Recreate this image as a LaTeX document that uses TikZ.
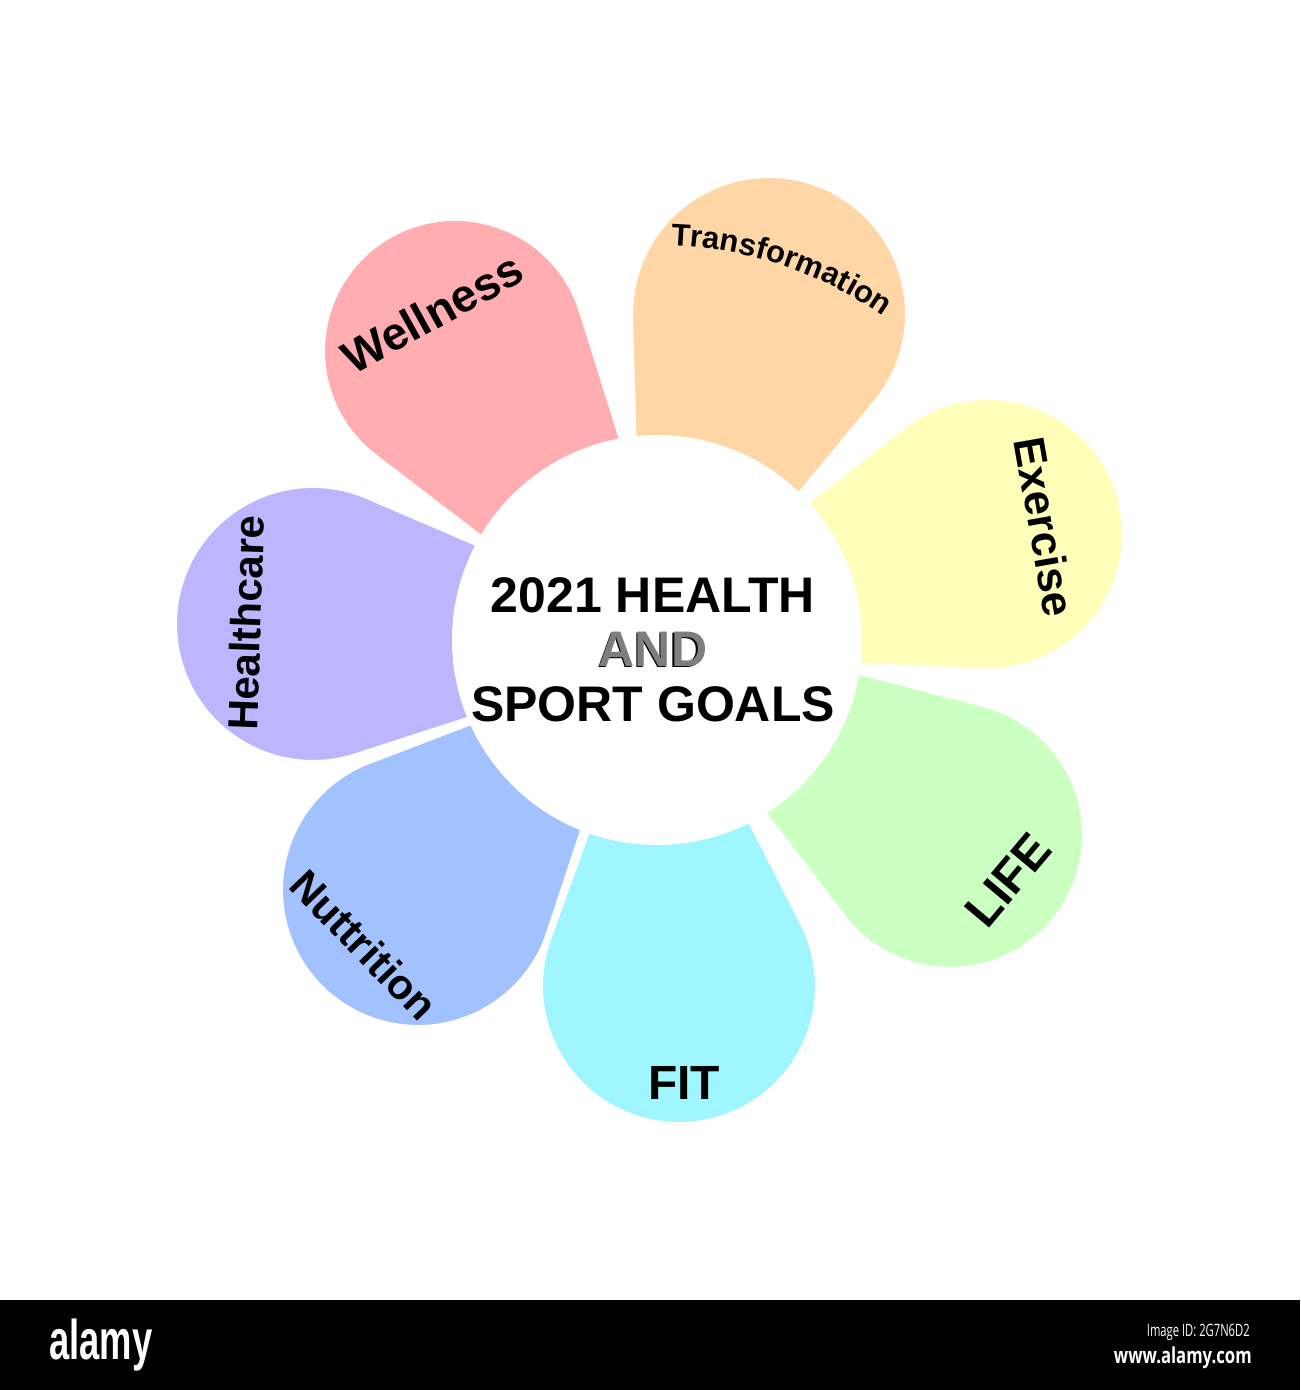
\documentclass[tikz,border=0pt]{standalone}
\usepackage{fontspec}
\setmainfont{Liberation Sans}
\newfontfamily\wmfont{Open Sans}
\usetikzlibrary{decorations.text}
\definecolor{pinkP}{HTML}{FFADB0}
\definecolor{peachP}{HTML}{FFD6A6}
\definecolor{yellowP}{HTML}{FFFFB9}
\definecolor{greenP}{HTML}{CCFFC2}
\definecolor{cyanP}{HTML}{9FF6FF}
\definecolor{blueP}{HTML}{A1C2FF}
\definecolor{purpleP}{HTML}{BEB5FF}
\definecolor{andgray}{HTML}{7E7E7E}
\tikzset{
  petalshape/.style={draw=white,line width=3pt},
  lbl/.style={font=\bfseries\fontsize{#1}{#1}\selectfont,inner sep=0pt},
  title/.style={font=\bfseries\fontsize{25}{25}\selectfont,inner sep=0pt,anchor=base},
  wm/.style={text=white,inner sep=0pt}
}
\newcommand\drawpetal[5]{%
  \pgfmathsetmacro\pang{atan2(750-#2,657-#1)}%
  \pgfmathsetmacro\pbet{acos(#3/#5)}%
  \pgfmathsetmacro\pend{360-\pbet}%
  \begin{scope}[shift={(#1,#2)},rotate=\pang]
    \path[petalshape,fill=#4] (#5,0) -- (\pbet:#3) arc[start angle=\pbet,end angle=\pend,radius=#3] -- cycle;
  \end{scope}}
\begin{document}
\begin{tikzpicture}[x=0.5pt,y=0.5pt]
\useasboundingbox (0,0) rectangle (1300,1390);
\fill[white] (0,0) rectangle (1300,1390);
% petals
\drawpetal{455}{1039}{133}{pinkP}{440}
\drawpetal{769}{1076}{139}{peachP}{395}
\drawpetal{988}{856}{137}{yellowP}{400}
\drawpetal{950}{555}{135}{greenP}{415}
\drawpetal{679}{404}{139}{cyanP}{350}
\drawpetal{418}{500}{138}{blueP}{322}
\drawpetal{313}{766}{139}{purpleP}{395}
% hub
\node (hub) [circle,fill=white,draw=white,line width=3pt,minimum size=202pt,inner sep=0pt] at (657,750) {};
% centre text
\node (t1) [title] at (653,777) {2021 HEALTH};
\node (t2s) [title,text=black] at (651.5,722) {AND};
\node (t2) [title,text=andgray] at (653,723) {AND};
\node (t3) [title] at (653,668) {SPORT GOALS};
% petal labels
\node (wellness) [lbl=23,rotate=29] at (432,1077) {Wellness};
\path[decorate,decoration={text along path,text align=center,
  text={|\bfseries\fontsize{15.5}{16}\selectfont|Transformation}}]
  (657,750) ++(101.5:395) arc[start angle=101.5,end angle=41.5,radius=395];
\node (exercise) [lbl=22,rotate=-80] at (1045,863) {Exercise};
\node (life) [lbl=24,rotate=50] at (1008,510) {LIFE};
\node (fit) [lbl=24] at (684,307) {FIT};
\node (nutr) [lbl=21,rotate=-46] at (364,445) {Nuttrition};
\node (health) [lbl=21,rotate=88] at (246,767) {Healthcare};
% bottom bar
\fill[black] (0,0) rectangle (1300,90);
\node (alamy) [wm,font=\bfseries\fontsize{28}{28}\selectfont,xscale=0.65] at (101,45) {alamy};
\node (imgid) [wm,font=\wmfont\fontsize{8.5}{8.5}\selectfont,xscale=0.66,anchor=east] at (1250,58) {Image ID: 2G7N6D2};
\node (www) [wm,font=\wmfont\bfseries\fontsize{11}{11}\selectfont,xscale=0.76,anchor=east] at (1252,32) {www.alamy.com};
\end{tikzpicture}
\end{document}
